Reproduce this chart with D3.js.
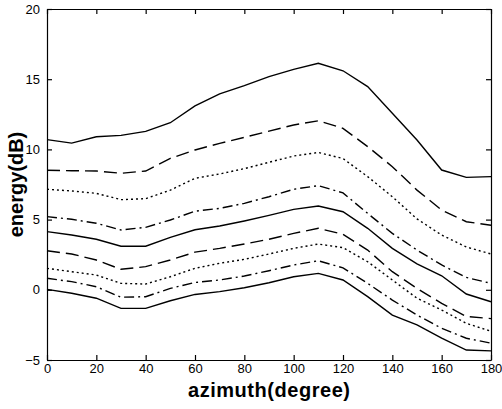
<!DOCTYPE html>
<html>
<head>
<meta charset="utf-8">
<script src="https://cdn.jsdelivr.net/npm/d3@7"></script>
<style>
    body { margin: 0; background: #fff; }
    svg { display: block; font-family: "Liberation Sans", Arial, sans-serif; }
    .axis path, .axis line { stroke: #000; stroke-width: 1.2; }
    .axis text { font-size: 13px; fill: #000; }
    .line { fill: none; stroke: #000; stroke-width: 1.4; }
</style>
</head>
<body>
<div class="chart"></div>
<script>
// azimuth in degrees
var azimuth = [0, 10, 20, 30, 40, 50, 60, 70, 80, 90, 100, 110, 120, 130, 140, 150, 160, 170, 180];

// energy curves (dB), top to bottom
var curve1 = [10.7, 10.45, 10.9, 11.0, 11.28, 11.9, 13.1, 13.95, 14.54, 15.18, 15.7, 16.13, 15.6, 14.47, 12.57, 10.67, 8.53, 8.01, 8.06];
var curve2 = [8.52, 8.48, 8.46, 8.3, 8.46, 9.36, 9.96, 10.43, 10.86, 11.3, 11.74, 12.04, 11.5, 10.2, 8.77, 7.1, 5.68, 4.85, 4.6];
var curve3 = [7.16, 7.04, 6.87, 6.42, 6.49, 7.1, 7.94, 8.25, 8.63, 9.08, 9.53, 9.78, 9.35, 8.06, 6.63, 5.05, 3.9, 3.05, 2.55];
var curve4 = [5.21, 5.02, 4.74, 4.26, 4.45, 4.97, 5.6, 5.8, 6.16, 6.63, 7.16, 7.42, 6.9, 5.44, 4.02, 2.83, 1.77, 0.88, 0.46];
var curve5 = [4.14, 3.9, 3.6, 3.1, 3.1, 3.74, 4.28, 4.54, 4.9, 5.3, 5.73, 5.97, 5.56, 4.38, 2.95, 1.85, 1.0, -0.3, -0.85];
var curve6 = [2.78, 2.55, 2.12, 1.46, 1.65, 2.12, 2.68, 2.95, 3.26, 3.6, 4.02, 4.38, 3.95, 2.83, 1.29, 0.1, -0.97, -1.9, -2.05];
var curve7 = [1.53, 1.29, 1.05, 0.46, 0.41, 0.93, 1.53, 1.89, 2.17, 2.55, 2.95, 3.26, 3.0, 2.0, 0.7, -0.6, -1.44, -2.39, -2.95];
var curve8 = [0.82, 0.58, 0.22, -0.53, -0.49, 0.1, 0.52, 0.7, 0.98, 1.36, 1.77, 2.07, 1.56, 0.46, -0.73, -1.8, -2.74, -3.45, -3.8];
var curve9 = [0.03, -0.25, -0.6, -1.32, -1.32, -0.78, -0.33, -0.13, 0.15, 0.5, 0.93, 1.17, 0.7, -0.49, -1.8, -2.5, -3.45, -4.29, -4.35];

var curves = [curve1, curve2, curve3, curve4, curve5, curve6, curve7, curve8, curve9];
var styles = ["solid", "dash", "dot", "dashdot", "solid", "dash", "dot", "dashdot", "solid"];

var xTicks = [0, 20, 40, 60, 80, 100, 120, 140, 160, 180];
var yTicks = [-5, 0, 5, 10, 15, 20];

var dashes = {
    solid: null,
    dash: "13,6",
    dot: "2,3",
    dashdot: "10,4,2,4"
};

function drawChart() {
    var width = 502;
    var height = 409;
    var margin = { left: 47, right: 11, top: 9, bottom: 49 };
    var w = width - margin.left - margin.right;
    var h = height - margin.top - margin.bottom;

    var svg = d3.select(".chart").append("svg")
        .attr("width", width)
        .attr("height", height)
        .append("g")
        .attr("transform", "translate(" + margin.left + "," + margin.top + ")");

    var xScale = d3.scaleLinear()
        .domain([0, 180])
        .range([0, w]);

    var yScale = d3.scaleLinear()
        .domain([-5, 20])
        .range([h, 0]);

    // ticks point inward on all four sides
    svg.append("g")
        .attr("class", "x axis")
        .attr("transform", "translate(0," + h + ")")
        .call(d3.axisBottom(xScale).tickValues(xTicks).tickSizeInner(-5).tickSizeOuter(0).tickPadding(4));

    svg.append("g")
        .attr("class", "x axis")
        .call(d3.axisTop(xScale).tickValues(xTicks).tickSizeInner(-5).tickSizeOuter(0).tickFormat(""));

    svg.append("g")
        .attr("class", "y axis")
        .call(d3.axisLeft(yScale).tickValues(yTicks).tickSizeInner(-5).tickSizeOuter(0).tickPadding(7));

    svg.append("g")
        .attr("class", "y axis")
        .attr("transform", "translate(" + w + ",0)")
        .call(d3.axisRight(yScale).tickValues(yTicks).tickSizeInner(-5).tickSizeOuter(0).tickFormat(""));

    var line = d3.line()
        .x(function (d, i) {
            return xScale(azimuth[i]);
        })
        .y(function (d) {
            return yScale(d);
        });

    svg.selectAll(".line")
        .data(curves)
        .enter().append("path")
        .attr("class", "line")
        .attr("d", line)
        .attr("stroke-dasharray", function (d, i) {
            return dashes[styles[i]];
        });

    svg.append("text")
        .attr("x", w / 2)
        .attr("y", h + 37)
        .attr("text-anchor", "middle")
        .attr("font-size", "20px")
        .attr("font-weight", "bold")
        .attr("textLength", 162)
        .text("azimuth(degree)");

    svg.append("text")
        .attr("transform", "translate(-24," + (h / 2) + ") rotate(-90)")
        .attr("text-anchor", "middle")
        .attr("font-size", "20px")
        .attr("font-weight", "bold")
        .text("energy(dB)");
}

drawChart();
</script>
</body>
</html>
